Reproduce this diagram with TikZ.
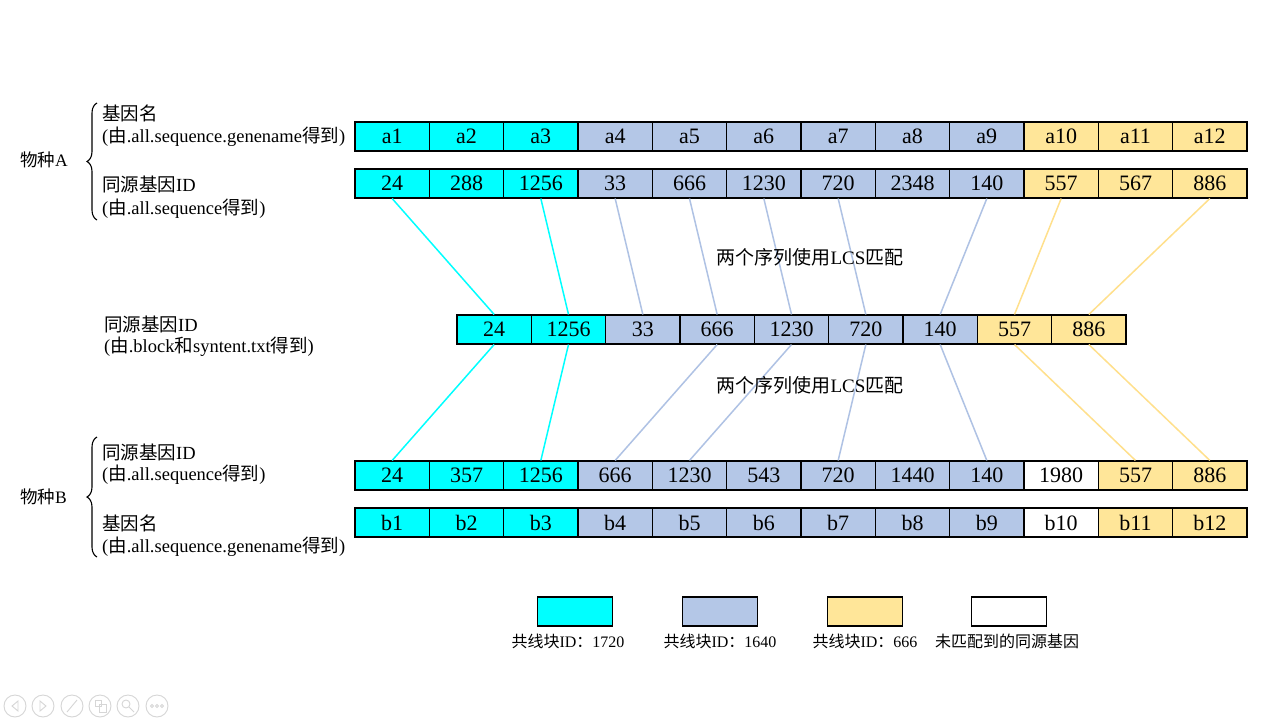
\documentclass[tikz,border=0pt]{standalone}
\usepackage{fontspec}
\setmainfont{Liberation Serif}
\newfontfamily\cjkf{Noto Sans CJK SC}
\newcommand{\zh}[1]{{\cjkf #1}}
\usetikzlibrary{decorations.pathreplacing}
\definecolor{cyanc}{HTML}{00FFFF}
\definecolor{blueg}{HTML}{B4C7E7}
\definecolor{yell}{HTML}{FFE699}
\definecolor{bluel}{HTML}{AFC2E4}
\definecolor{yelll}{HTML}{FFE08C}
\definecolor{icong}{HTML}{D6D6D6}
\tikzset{
  cell/.style={draw=black, line width=1.1pt, minimum width=74.33pt, minimum height=29pt, inner sep=0pt, font=\fontsize{22}{22}\selectfont},
  lab/.style={anchor=west, inner sep=0pt, font=\fontsize{18.5}{24}\selectfont, align=left},
  spec/.style={anchor=west, inner sep=0pt, font=\fontsize{17.5}{20}\selectfont},
  mid/.style={inner sep=0pt, font=\fontsize{19}{20}\selectfont},
  leg/.style={inner sep=0pt, font=\fontsize{16}{18}\selectfont},
  lc/.style={cyanc, line width=1.5pt},
  lb/.style={bluel, line width=1.5pt},
  ly/.style={yelll, line width=1.5pt},
  brc/.style={decorate, decoration={brace, amplitude=10pt, aspect=0.5}, line width=1.1pt},
  icon/.style={icong, line width=0.9pt}
}
\begin{document}
\begin{tikzpicture}[x=1pt, y=-1pt]
\useasboundingbox (0,0) rectangle (1280,720);
\fill[white] (0,0) rectangle (1280,720);

% species A gene names
\foreach \i/\t/\c in {1/a1/cyanc,2/a2/cyanc,3/a3/cyanc,4/a4/blueg,5/a5/blueg,6/a6/blueg,7/a7/blueg,8/a8/blueg,9/a9/blueg,10/a10/yell,11/a11/yell,12/a12/yell}
  \node[cell, fill=\c] (ga\i) at ({355+(\i-0.5)*74.333},136.5) {\t};
% species A ids
\foreach \i/\t/\c in {1/24/cyanc,2/288/cyanc,3/1256/cyanc,4/33/blueg,5/666/blueg,6/1230/blueg,7/720/blueg,8/2348/blueg,9/140/blueg,10/557/yell,11/567/yell,12/886/yell}
  \node[cell, fill=\c] (ia\i) at ({355+(\i-0.5)*74.333},183.5) {\t};
% middle
\foreach \i/\t/\c in {1/24/cyanc,2/1256/cyanc,3/33/blueg,4/666/blueg,5/1230/blueg,6/720/blueg,7/140/blueg,8/557/yell,9/886/yell}
  \node[cell, fill=\c] (m\i) at ({457+(\i-0.5)*74.333},329.5) {\t};
% species B ids
\foreach \i/\t/\c in {1/24/cyanc,2/357/cyanc,3/1256/cyanc,4/666/blueg,5/1230/blueg,6/543/blueg,7/720/blueg,8/1440/blueg,9/140/blueg,10/1980/white,11/557/yell,12/886/yell}
  \node[cell, fill=\c] (ib\i) at ({355+(\i-0.5)*74.333},475.5) {\t};
% species B gene names
\foreach \i/\t/\c in {1/b1/cyanc,2/b2/cyanc,3/b3/cyanc,4/b4/blueg,5/b5/blueg,6/b6/blueg,7/b7/blueg,8/b8/blueg,9/b9/blueg,10/b10/white,11/b11/yell,12/b12/yell}
  \node[cell, fill=\c] (gb\i) at ({355+(\i-0.5)*74.333},522.5) {\t};

% connectors A -> middle
\draw[lc] (ia1.south) -- (m1.north);
\draw[lc] (ia3.south) -- (m2.north);
\draw[lb] (ia4.south) -- (m3.north);
\draw[lb] (ia5.south) -- (m4.north);
\draw[lb] (ia6.south) -- (m5.north);
\draw[lb] (ia7.south) -- (m6.north);
\draw[lb] (ia9.south) -- (m7.north);
\draw[ly] (ia10.south) -- (m8.north);
\draw[ly] (ia12.south) -- (m9.north);
% connectors middle -> B
\draw[lc] (m1.south) -- (ib1.north);
\draw[lc] (m2.south) -- (ib3.north);
\draw[lb] (m4.south) -- (ib4.north);
\draw[lb] (m5.south) -- (ib5.north);
\draw[lb] (m6.south) -- (ib7.north);
\draw[lb] (m7.south) -- (ib9.north);
\draw[ly] (m8.south) -- (ib11.north);
\draw[ly] (m9.south) -- (ib12.north);

% LCS labels
\node[mid] (lcs1) at (810,257) {\zh{两个序列使用}LCS\zh{匹配}};
\node[mid] (lcs2) at (810,385) {\zh{两个序列使用}LCS\zh{匹配}};

% left labels species A
\node[lab] (la1) at (102,113) {\zh{基因名}};
\node[lab] (la2) at (102,137) {(\zh{由}.all.sequence.genename\zh{得到})};
\node[lab] (la3) at (102,184) {\zh{同源基因}ID};
\node[lab] (la4) at (102,209) {(\zh{由}.all.sequence\zh{得到})};
\node[spec] (spA) at (20,160) {\zh{物种}A};
\draw[brc] (97,220) -- (97,103);

% middle label
\node[lab] (lm1) at (104,324) {\zh{同源基因}ID};
\node[lab] (lm2) at (104,347) {(\zh{由}.block\zh{和}syntent.txt\zh{得到})};

% left labels species B
\node[lab] (lb1) at (102,452) {\zh{同源基因}ID};
\node[lab] (lb2) at (102,475) {(\zh{由}.all.sequence\zh{得到})};
\node[lab] (lb3) at (102,523) {\zh{基因名}};
\node[lab] (lb4) at (102,547) {(\zh{由}.all.sequence.genename\zh{得到})};
\node[spec] (spB) at (20,497) {\zh{物种}B};
\draw[brc] (97,557) -- (97,437);

% legend
\node[cell, fill=cyanc] (k1) at (575,611.5) {};
\node[cell, fill=blueg] (k2) at (720,611.5) {};
\node[cell, fill=yell] (k3) at (865,611.5) {};
\node[cell, fill=white] (k4) at (1009,611.5) {};
\node[leg] (t1) at (568,641) {\zh{共线块}ID\zh{：}1720};
\node[leg] (t2) at (720,641) {\zh{共线块}ID\zh{：}1640};
\node[leg] (t3) at (865,641) {\zh{共线块}ID\zh{：}666};
\node[leg] (t4) at (1007,641) {\zh{未匹配到的同源基因}};

% faint presentation controls
\foreach \x in {15,43,72,100,128,157} \draw[icon] (\x,706) circle (11);
\draw[icon] (18,701) -- (12,706) -- (18,711) -- cycle;
\draw[icon] (40,701) -- (46,706) -- (40,711) -- cycle;
\draw[icon] (67,712) -- (77,700);
\draw[icon] (95,700) rectangle (101,706);
\draw[icon] (99,704) rectangle (106,712);
\draw[icon] (126,704) circle (4);
\draw[icon] (129,707) -- (134,712);
\foreach \x in {152,157,162} \draw[icon] (\x,706) circle (1.6);
\end{tikzpicture}
\end{document}
